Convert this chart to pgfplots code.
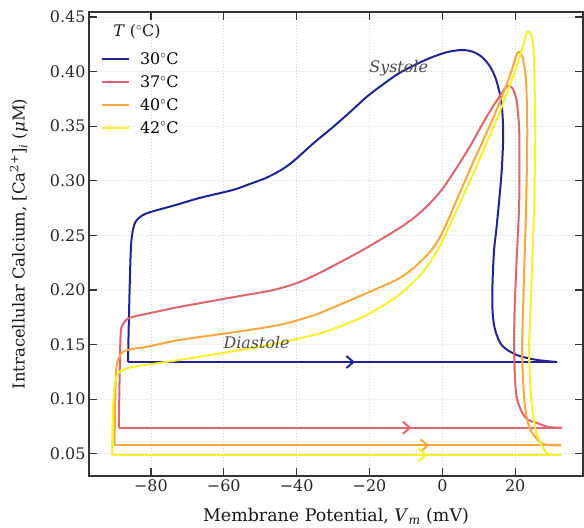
\documentclass[border=0pt]{standalone}
\usepackage{fontspec}
\setmainfont{DejaVu Serif}
\usepackage{pgfplots}
\pgfplotsset{compat=1.18}
\usetikzlibrary{calc,arrows.meta}

\definecolor{c30}{HTML}{23238E}
\definecolor{c37}{HTML}{DC6670}
\definecolor{c40}{HTML}{F7A841}
\definecolor{c42}{HTML}{F2F22E}
\definecolor{spine}{HTML}{333333}

\tikzset{
  cur/.style={line width=2bp},
  arr/.style={line width=2bp, -{Straight Barb[length=7bp,width=12bp]}},
}

\begin{document}
\begin{tikzpicture}
\begin{axis}[
    scale only axis,
    width=494bp, height=464bp,
    xmin=-97, xmax=38.6,
    ymin=0.0296, ymax=0.4546,
    xtick={-80,-60,-40,-20,0,20},
    xticklabels={−80,−60,−40,−20,0,20},
    ytick={0.05,0.10,0.15,0.20,0.25,0.30,0.35,0.40,0.45},
    yticklabels={0.05,0.10,0.15,0.20,0.25,0.30,0.35,0.40,0.45},
    tick align=inside,
    major tick length=8bp,
    tick style={spine, line width=1.2bp},
    axis line style={spine, line width=1.5bp},
    xtick pos=both, ytick pos=both,
    xticklabel pos=lower, yticklabel pos=left,
    ticklabel style={font=\fontsize{16}{19}\selectfont, text=black!85},
    grid=major,
    grid style={dash pattern=on 1bp off 2bp, black!16, line width=0.7bp},
    xlabel={Membrane Potential, \textit{V}\textsubscript{\textit{m}} (mV)},
    ylabel={Intracellular Calcium, [Ca\textsuperscript{2+}]\textsubscript{\textit{i}} (\textit{μ}M)},
    xlabel style={font=\fontsize{17.5}{20}\selectfont, text=black!90},
    ylabel style={font=\fontsize{16.5}{19}\selectfont, text=black!90},
    xlabel shift=10bp,
    ylabel shift=15bp,
    legend style={draw=none, fill=none, at={(0.018,0.921)}, anchor=north west,
        font=\fontsize{16}{19}\selectfont, row sep=5.5bp},
    legend cell align=left,
    legend image code/.code={\draw[#1, line width=2bp] (0bp,0bp) -- (27bp,0bp); \path (35bp,0bp);},
]
% 30 C
\addplot[c30, cur, forget plot] coordinates {(-86.3,0.134)(31.5,0.134)};
\addplot[c30, arr, forget plot] coordinates {(-31,0.134)(-24,0.134)};
\addplot[c30, cur, smooth, tension=0.5] coordinates {
(-86.3,0.134)(-86.0,0.18)(-85.6,0.23)(-85.2,0.250)(-84.3,0.262)(-82.5,0.268)
(-80,0.2715)(-73,0.278)(-66.6,0.2843)(-57.5,0.2916)(-52.9,0.297)(-48.5,0.3025)
(-44.7,0.309)(-42,0.315)(-39.5,0.322)(-35,0.3355)(-30.1,0.349)(-25,0.364)
(-20.8,0.3768)(-16,0.389)(-11.8,0.3987)(-7,0.407)(-2.7,0.4134)(1.5,0.418)
(5.5,0.4198)(8.5,0.418)(11,0.413)(13.2,0.404)(14.8,0.392)(16.2,0.372)
(16.7,0.344)(16.3,0.31)(15.6,0.2825)(14.8,0.255)(14.2,0.237)(13.8,0.21)
(13.7,0.19)(13.9,0.175)(14.6,0.162)(16.4,0.149)(20.3,0.1406)(25.8,0.136)
(31.5,0.134)};
\addlegendentry{30$^\circ$C}

% 37 C
\addplot[c37, cur, forget plot] coordinates {(-88.8,0.0738)(32.9,0.0738)};
\addplot[c37, arr, forget plot] coordinates {(-15.5,0.0738)(-8.5,0.0738)};
\addplot[c37, cur, smooth, tension=0.5] coordinates {
(-88.8,0.0738)(-88.6,0.12)(-88.3,0.160)(-87.6,0.169)(-85.8,0.1745)(-80,0.179)
(-72,0.1846)(-65,0.1888)(-58.4,0.1928)(-52,0.1965)(-47,0.1995)(-43,0.203)
(-39,0.2075)(-35,0.2135)(-30,0.222)(-21.9,0.2365)(-12.6,0.255)(-8,0.2655)
(-4,0.2775)(0,0.2925)(4.7,0.316)(8,0.334)(11,0.352)(13.5,0.366)
(15.6,0.3768)(17.8,0.3868)(19.2,0.385)(20.3,0.375)(20.8,0.36)(21.1,0.344)
(21.1,0.2825)(20.3,0.221)(19.8,0.18)(19.7,0.145)(20.0,0.115)(20.5,0.100)
(21.9,0.0875)(23.5,0.081)(25.8,0.0784)(29,0.0745)(32.9,0.0738)};
\addlegendentry{37$^\circ$C}

% 40 C
\addplot[c40, cur, forget plot] coordinates {(-90,0.0576)(32.6,0.0576)};
\addplot[c40, arr, forget plot] coordinates {(-10.5,0.0576)(-3.6,0.0576)};
\addplot[c40, cur, smooth, tension=0.5] coordinates {
(-90,0.0576)(-89.8,0.10)(-89.5,0.128)(-88.8,0.138)(-87.7,0.1433)(-85,0.146)
(-81,0.148)(-72,0.1543)(-58.4,0.1607)(-44.7,0.168)(-35.6,0.1765)(-31,0.1825)
(-21.9,0.1955)(-12.6,0.2093)(-8.5,0.2185)(-5.5,0.2276)(-3,0.2365)(-0.8,0.2475)
(1.5,0.2635)(3.3,0.2775)(8.2,0.315)(13.7,0.3557)(18.4,0.395)(20.0,0.412)
(20.8,0.418)(21.6,0.416)(22.2,0.4106)(23,0.3896)(23.3,0.344)(23.0,0.28)
(22.3,0.20)(21.9,0.145)(22.5,0.0994)(23.8,0.0747)(26.6,0.061)(29,0.058)
(32.6,0.0576)};
\addlegendentry{40$^\circ$C}

% 42 C
\addplot[c42, cur, forget plot] coordinates {(-90.7,0.049)(32.6,0.049)};
\addplot[c42, arr, forget plot] coordinates {(-11,0.049)(-4.1,0.049)};
\addplot[c42, cur, smooth, tension=0.5] coordinates {
(-90.7,0.049)(-90.4,0.09)(-90.0,0.112)(-89,0.124)(-87,0.1275)(-85,0.1296)
(-80,0.132)(-72,0.136)(-58.4,0.1433)(-44.7,0.1515)(-35.6,0.1585)(-31,0.1630)
(-21.9,0.1752)(-12.6,0.1937)(-5.5,0.2157)(-0.8,0.2395)(2.7,0.2642)(5.2,0.2825)
(10.1,0.319)(15.6,0.362)(20.3,0.404)(22.5,0.428)(23.3,0.4363)(24.2,0.435)
(24.9,0.425)(25.2,0.404)(25.5,0.344)(25.2,0.28)(24.4,0.20)(23.8,0.145)
(24.4,0.0994)(25.8,0.0692)(28.5,0.051)(30.5,0.0492)(32.6,0.049)};
\addlegendentry{42$^\circ$C}

\node[font=\fontsize{16}{19}\selectfont, text=black!90] at (axis description cs:0.097,0.957) {\textit{T} ($^\circ$C)};
\node[font=\fontsize{16}{19}\selectfont\itshape, text=black!70] at (axis cs:-12,0.403) {Systole};
\node[font=\fontsize{16}{19}\selectfont\itshape, text=black!70] at (axis cs:-51,0.152) {Diastole};
\end{axis}
\pgfresetboundingbox
\path ($(current axis.south west)+(-89bp,-52bp)$) rectangle ($(current axis.north east)+(1bp,12bp)$);
\end{tikzpicture}
\end{document}
